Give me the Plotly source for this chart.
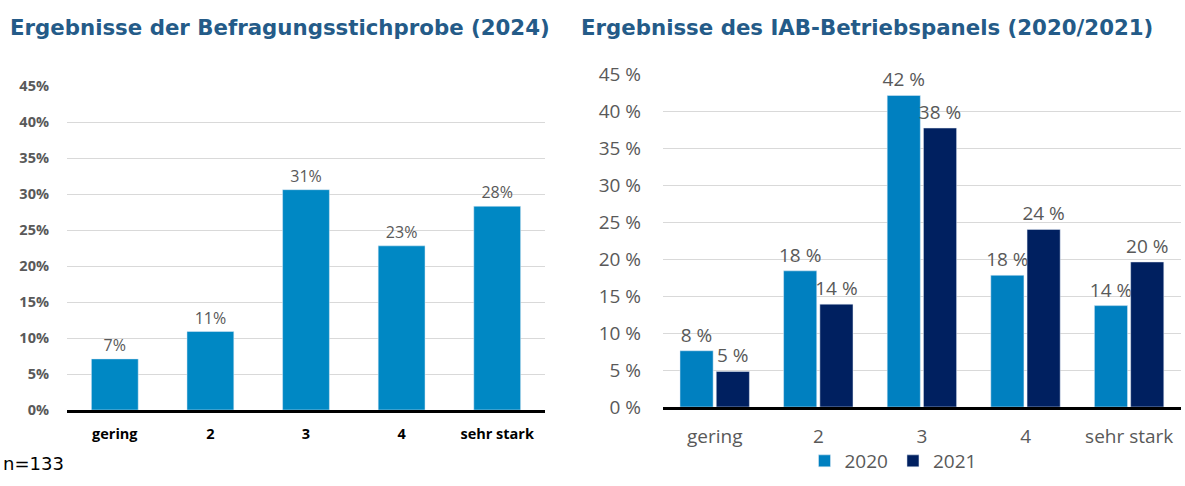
import plotly.graph_objects as go

W, H = 1185, 486

categories = ["gering", "2", "3", "4", "sehr stark"]
sample_2024 = [7.1, 10.9, 30.6, 22.8, 28.3]
iab_2020 = [7.6, 18.4, 42.1, 17.8, 13.7]
iab_2021 = [4.8, 13.9, 37.7, 24.0, 19.6]
series_names = ["2020", "2021"]
y_ticks = [0, 5, 10, 15, 20, 25, 30, 35, 40, 45]
y_ticklabels_left = ["0%", "5%", "10%", "15%", "20%", "25%", "30%", "35%", "40%", "45%"]
y_ticklabels_right = ["0 %", "5 %", "10 %", "15 %", "20 %", "25 %", "30 %", "35 %", "40 %", "45 %"]

title_left = "Ergebnisse der Befragungsstichprobe (2024)"
title_right = "Ergebnisse des IAB-Betriebspanels (2020/2021)"
note = "n=133"

FONT = "Open Sans"
TITLE_FONT = "DejaVu Sans"
TITLE_COLOR = "#245B88"
GRAY = "#595959"

def px_x(p):
    return p / W

def px_y(p):
    return 1 - p / H

fig = go.Figure()

fig.add_trace(go.Bar(
    x=categories, y=sample_2024, xaxis="x", yaxis="y",
    marker=dict(color="#0088C4"), width=0.49,
    texttemplate="%{y:.0f}%", textposition="outside", constraintext="none",
    textfont=dict(family=FONT, size=16, color=GRAY),
    cliponaxis=False, showlegend=False, hoverinfo="skip",
))

fig.add_trace(go.Bar(
    x=categories, y=iab_2020, xaxis="x2", yaxis="y2", name=series_names[0],
    marker=dict(color="#0080C0"), width=0.32, offset=-0.336,
    texttemplate="%{y:.0f} %", textposition="outside", constraintext="none",
    textfont=dict(family=FONT, size=19, color=GRAY),
    cliponaxis=False, hoverinfo="skip",
))
fig.add_trace(go.Bar(
    x=categories, y=iab_2021, xaxis="x2", yaxis="y2", name=series_names[1],
    marker=dict(color="#002060"), width=0.32, offset=0.014,
    texttemplate="%{y:.0f} %", textposition="outside", constraintext="none",
    textfont=dict(family=FONT, size=19, color=GRAY),
    cliponaxis=False, hoverinfo="skip",
))

fig.update_layout(
    width=W, height=H,
    margin=dict(l=0, r=0, t=0, b=0, autoexpand=False),
    paper_bgcolor="white", plot_bgcolor="white",
    barmode="group",
    font=dict(family=FONT, color=GRAY),
    xaxis=dict(domain=[px_x(67), px_x(545)], anchor="y",
               showline=True, linecolor="black", linewidth=3,
               ticks="", showgrid=False, ticklabelstandoff=9,
               tickfont=dict(family=FONT, size=14.5, color="black", weight="bold")),
    yaxis=dict(domain=[px_y(410), px_y(86)], anchor="x", range=[0, 45],
               tickvals=y_ticks, ticktext=y_ticklabels_left, showgrid=True,
               gridcolor="#D9D9D9", gridwidth=1, zeroline=False,
               showline=False, ticks="", ticklabelstandoff=17,
               tickfont=dict(family=FONT, size=14.5, color=GRAY, weight="bold")),
    xaxis2=dict(domain=[px_x(663), px_x(1181)], anchor="y2",
                showline=True, linecolor="black", linewidth=3,
                ticks="", showgrid=False, ticklabelstandoff=10,
                tickfont=dict(family=FONT, size=19, color=GRAY)),
    yaxis2=dict(domain=[px_y(407), px_y(74)], anchor="x2", range=[0, 45],
                tickvals=y_ticks, ticktext=y_ticklabels_right, showgrid=True,
                gridcolor="#D9D9D9", gridwidth=1, zeroline=False,
                showline=False, ticks="", ticklabelstandoff=21,
                tickfont=dict(family=FONT, size=19, color=GRAY)),
    legend=dict(orientation="h", x=px_x(893), xanchor="center",
                y=px_y(461), yanchor="middle",
                font=dict(family=FONT, size=19, color=GRAY),
                itemwidth=30, bgcolor="rgba(0,0,0,0)"),
    annotations=[
        dict(text=title_left, x=px_x(8), y=px_y(28), xref="paper", yref="paper",
             xanchor="left", yanchor="middle", showarrow=False,
             font=dict(family=TITLE_FONT, size=21.3, color=TITLE_COLOR, weight="bold")),
        dict(text=title_right, x=px_x(579), y=px_y(28), xref="paper", yref="paper",
             xanchor="left", yanchor="middle", showarrow=False,
             font=dict(family=TITLE_FONT, size=21.3, color=TITLE_COLOR, weight="bold")),
        dict(text=note, x=px_x(1), y=px_y(463), xref="paper", yref="paper",
             xanchor="left", yanchor="middle", showarrow=False,
             font=dict(family="DejaVu Sans", size=18, color="black")),
    ],
)

fig.write_html("out.html", config={"displayModeBar": False},
               post_script="document.body.style.margin='0';")
